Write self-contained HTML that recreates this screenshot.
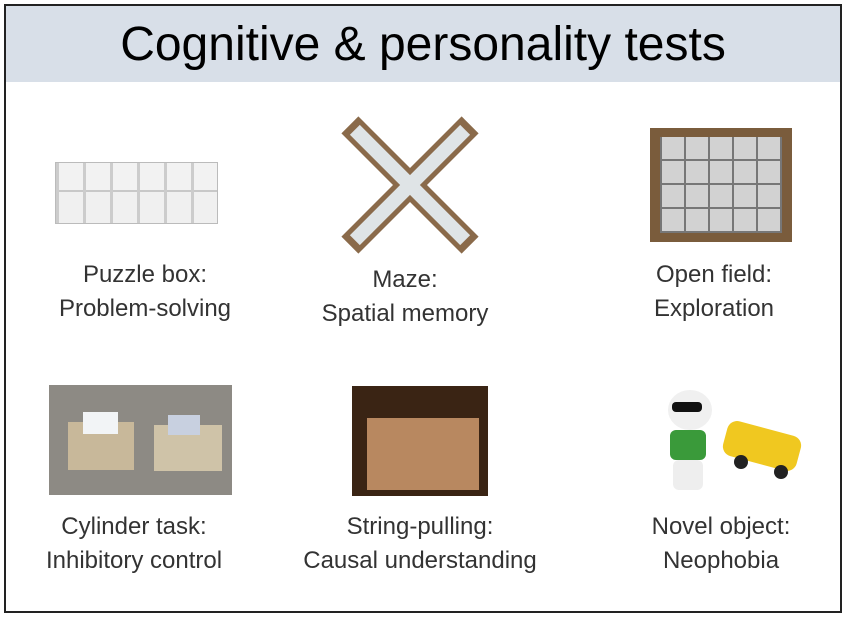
<!DOCTYPE html>
<html><head><style>
body{margin:0;width:846px;height:617px;background:#fff;position:relative;overflow:hidden;font-family:"Liberation Sans",sans-serif}
.frame{position:absolute;left:4px;top:4px;width:834px;height:605px;border:2px solid #222;}
.hdr{position:absolute;left:6px;top:6px;width:834px;height:76px;background:#d8dfe8}
.title{position:absolute;left:6px;top:17px;width:834px;text-align:center;font-size:48px;color:#000}
.lbl{position:absolute;width:300px;text-align:center;font-size:24px;line-height:34px;color:#333}
.a{position:absolute}
</style></head><body>
<div class="hdr"></div>
<div class="frame"></div>
<div class="title">Cognitive &amp; personality tests</div>

<div class="a" style="left:55px;top:162px;width:163px;height:62px;background:#e4e4e4;border:1px solid #bbb;box-sizing:border-box;background-image:repeating-linear-gradient(90deg,#ccc 0 3px,transparent 3px 27px),linear-gradient(#f2f2f2 0 45%,#c8c8c8 45% 48%,#f0f0f0 48%)"></div>

<svg class="a" style="left:340px;top:115px" width="140" height="140">
<g transform="rotate(45 70 70)"><rect x="-15" y="58" width="170" height="24" fill="#8a6a4a"/><rect x="58" y="-15" width="24" height="170" fill="#8a6a4a"/>
<rect x="-8" y="63" width="156" height="14" fill="#dfe4e6"/><rect x="63" y="-8" width="14" height="156" fill="#dfe4e6"/></g>
</svg>

<div class="a" style="left:650px;top:128px;width:142px;height:114px;background:#7a5c3c;"></div>
<div class="a" style="left:660px;top:137px;width:122px;height:96px;background:#d2d2d2;background-image:repeating-linear-gradient(90deg,#777 0 2px,transparent 2px 24px),repeating-linear-gradient(0deg,#777 0 2px,transparent 2px 24px)"></div>

<div class="a" style="left:49px;top:385px;width:183px;height:110px;background:#8d8a84"></div>
<div class="a" style="left:68px;top:422px;width:66px;height:48px;background:#c8b89a"></div>
<div class="a" style="left:154px;top:425px;width:68px;height:46px;background:#cfc3a8"></div>
<div class="a" style="left:83px;top:412px;width:35px;height:22px;background:#f2f4f6"></div>
<div class="a" style="left:168px;top:415px;width:32px;height:20px;background:#c8d0e0"></div>

<div class="a" style="left:352px;top:386px;width:136px;height:110px;background:#3a2414"></div>
<div class="a" style="left:367px;top:418px;width:112px;height:72px;background:#b88860"></div>

<div class="a" style="left:668px;top:390px;width:44px;height:40px;background:#f0f0f0;border-radius:50%"></div>
<div class="a" style="left:672px;top:402px;width:30px;height:10px;background:#111;border-radius:4px"></div>
<div class="a" style="left:670px;top:430px;width:36px;height:30px;background:#3a9a3a;border-radius:6px"></div>
<div class="a" style="left:673px;top:460px;width:30px;height:30px;background:#eee;border-radius:6px"></div>
<div class="a" style="left:724px;top:428px;width:76px;height:36px;background:#f0c820;border-radius:10px;transform:rotate(15deg)"></div>
<div class="a" style="left:734px;top:455px;width:14px;height:14px;background:#222;border-radius:50%"></div>
<div class="a" style="left:774px;top:465px;width:14px;height:14px;background:#222;border-radius:50%"></div>

<div class="lbl" style="left:-5px;top:258px">Puzzle box:<br>Problem-solving</div>
<div class="lbl" style="left:255px;top:263px">Maze:<br>Spatial memory</div>
<div class="lbl" style="left:564px;top:258px">Open field:<br>Exploration</div>
<div class="lbl" style="left:-16px;top:510px">Cylinder task:<br>Inhibitory control</div>
<div class="lbl" style="left:270px;top:510px">String-pulling:<br>Causal understanding</div>
<div class="lbl" style="left:571px;top:510px">Novel object:<br>Neophobia</div>
</body></html>
